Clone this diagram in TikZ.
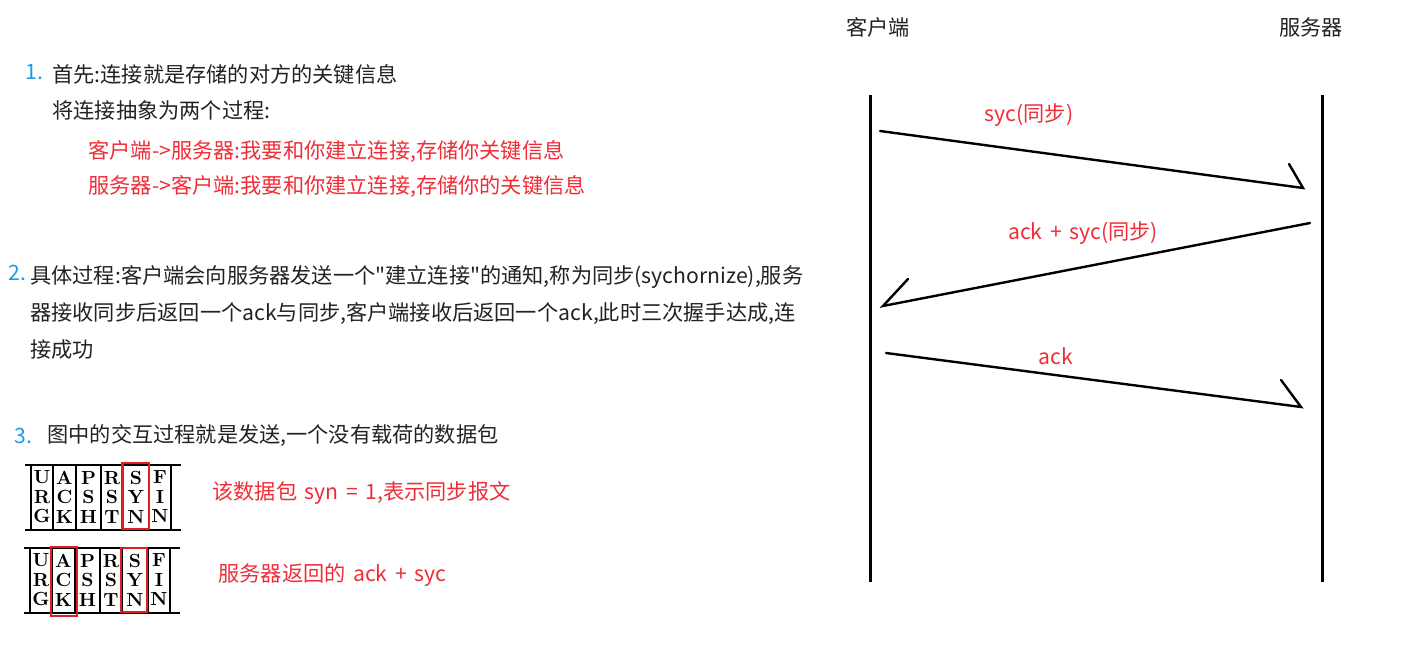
\documentclass[tikz,border=0pt]{standalone}
\usepackage{fontspec}
\usepackage{tikz}
\usetikzlibrary{arrows.meta,positioning}
\newfontfamily\cjk[WordSpace=1.6]{Noto Sans CJK SC}
\definecolor{txtred}{RGB}{240,45,55}
\definecolor{boxred}{RGB}{225,30,40}
\definecolor{numblue}{RGB}{30,155,230}
\definecolor{txtgray}{RGB}{34,34,34}

\tikzset{
  txt/.style={font=\cjk\fontsize{10.6}{12}\selectfont, text=txtgray, anchor=west, inner sep=0pt},
  redtxt/.style={txt, text=txtred},
  num/.style={txt, text=numblue},
  lbl/.style={font=\cjk\fontsize{10.6}{12}\selectfont, text=txtred, inner sep=0pt},
  flag/.style={font=\bfseries\fontsize{9.5}{9.75}\selectfont, align=center, inner sep=0pt},
  life/.style={line width=1.5pt},
  msg/.style={line width=1.2pt, line cap=round},
  redbox/.style={draw=boxred, line width=1.3pt}
}

\begin{document}
\begin{tikzpicture}[x=0.5pt,y=-0.5pt]
  \useasboundingbox[fill=white] (0,0) rectangle (1407,657);

  % Point 1
  \node[num] (n1) at (25,72) {1.};
  \node[txt] (p1a) at (52,74) {首先:连接就是存储的对方的关键信息};
  \node[txt] (p1b) at (52,110) {将连接抽象为两个过程:};
  \node[redtxt] (p1c) at (88,152) {客户端->服务器:我要和你建立连接,存储你关键信息};
  \node[redtxt] (p1d) at (88,187) {服务器->客户端:我要和你建立连接,存储你的关键信息};

  % Point 2
  \node[num] (n2) at (8,273) {2.};
  \node[txt] (p2a) at (30,277) {具体过程:客户端会向服务器发送一个"建立连接"的通知,称为同步(sychornize),服务};
  \node[txt] (p2b) at (30,314) {器接收同步后返回一个ack与同步,客户端接收后返回一个ack,此时三次握手达成,连};
  \node[txt] (p2c) at (30,350) {接成功};

  % Point 3
  \node[num] (n3) at (14,436) {3.};
  \node[txt] (p3a) at (47,436) {图中的交互过程就是发送,一个没有载荷的数据包};

  % Flag tables
  \foreach \row/\yy/\xx in {1/465/0, 2/548/-1} {
    \begin{scope}[shift={(\xx,\yy)}]
      \draw[line width=1pt] (25,0) -- (181,0);
      \draw[line width=1pt] (25,65) -- (181,65);
      \foreach \vx in {31,53,76,101,123,149,171}
        \draw[line width=0.6pt] (\vx,0) -- (\vx,65);
      \foreach \lt/\cx [count=\i] in {U\\R\\G/42, A\\C\\K/64.5, P\\S\\H/88.5, R\\S\\T/112, S\\Y\\N/136, F\\I\\N/160}
        \node[flag] (t\row-\i) at (\cx,32) {\lt};
    \end{scope}
  }
  \draw[redbox] (122.5,463) rectangle (149,529);
  \draw[redbox] (51,547) rectangle (77,616);
  \draw[redbox] (121,548) rectangle (147,612);

  \node[redtxt] (f1) at (212,493) {该数据包 syn = 1,表示同步报文};
  \node[redtxt] (f2) at (218,575) {服务器返回的 ack + syc};

  % Sequence
  \node[font=\cjk\fontsize{10.6}{12}\selectfont, text=txtgray] (client) at (878,27) {客户端};
  \node[font=\cjk\fontsize{10.6}{12}\selectfont, text=txtgray] (server) at (1311,27) {服务器};

  \coordinate (c-top) at (870,95);
  \coordinate (c-bot) at (870,582);
  \coordinate (s-top) at (1322,95);
  \coordinate (s-bot) at (1322,582);
  \draw[life] (c-top) -- (c-bot);
  \draw[life] (s-top) -- (s-bot);

  \coordinate (m1-s) at (880,131);
  \coordinate (m1-e) at (1303,188);
  \coordinate (m1-b) at (1289,164);
  \coordinate (m2-s) at (1310,223);
  \coordinate (m2-e) at (883,306);
  \coordinate (m2-b) at (908,279);
  \coordinate (m3-s) at (886,353);
  \coordinate (m3-e) at (1301,407);
  \coordinate (m3-b) at (1281,380);

  \draw[msg] (m1-s) -- (m1-e) -- (m1-b);
  \draw[msg] (m2-s) -- (m2-e) -- (m2-b);
  \draw[msg] (m3-s) -- (m3-e) -- (m3-b);

  % Labels
  \node[lbl] (l1) at (1029,115) {syc(同步)};
  \node[lbl] (l2) at (1083,233) {ack + syc(同步)};
  \node[lbl] (l3) at (1056,356) {ack};
\end{tikzpicture}
\end{document}
